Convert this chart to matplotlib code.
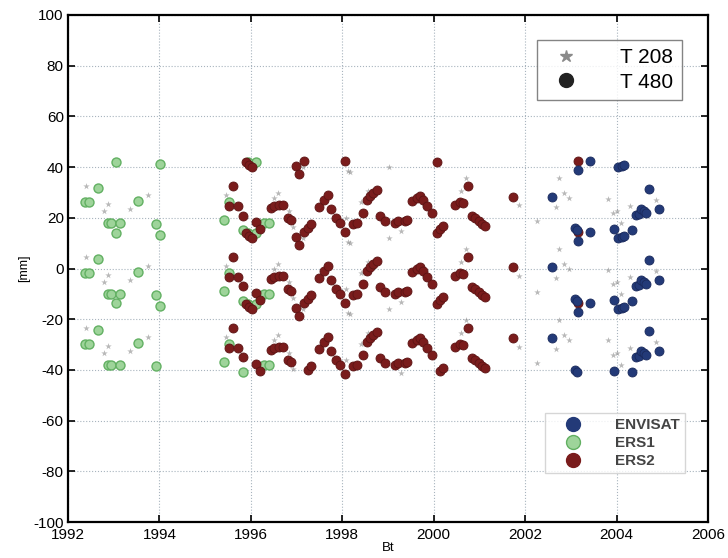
import numpy as np
import matplotlib
matplotlib.use("Agg")
import matplotlib.pyplot as plt
from matplotlib.lines import Line2D
from matplotlib.ticker import FuncFormatter

plt.rcParams["font.family"] = ["Liberation Sans", "DejaVu Sans"]

# ── data (value read in one band; the plot repeats it every AMB mm) ──────────
AMB = 28.0
Y_LO, Y_HI = -41.5, 42.5

ers1_t = [1992.37, 1992.47, 1992.66, 1992.88, 1992.95, 1993.04, 1993.14,
          1993.54, 1993.92, 1994.01, 1995.41, 1995.52, 1995.82, 1995.93,
          1996.11, 1996.29, 1996.40]
ers1_v = [-1.8, -1.8, 3.9, -10.1, -10.1, -13.8, -10.1,
          -1.2, -10.4, -14.7, -8.9, -1.8, -12.8, -13.9,
          13.9, -10.0, -10.0]

ers2_t = [1995.52, 1995.61, 1995.72, 1995.82, 1995.89, 1995.96, 1996.02,
          1996.11, 1996.20, 1996.44, 1996.51, 1996.62, 1996.70, 1996.81,
          1996.88, 1996.99, 1997.06, 1997.17, 1997.25, 1997.32, 1997.48,
          1997.61, 1997.69, 1997.76, 1997.87, 1997.94, 1998.05, 1998.23,
          1998.33, 1998.45, 1998.53, 1998.60, 1998.67, 1998.75, 1998.82,
          1998.93, 1999.15, 1999.22, 1999.37, 1999.41, 1999.52, 1999.63,
          1999.70, 1999.77, 1999.85, 1999.96, 2000.07, 2000.14, 2000.21,
          2000.47, 2000.58, 2000.65, 2000.76, 2000.84, 2000.91, 2000.98,
          2001.05, 2001.13, 2001.73, 2003.16]
ers2_v = [-3.2, 4.5, -3.4, -7.1, 13.9, 13.0, 12.2,
          -9.7, -12.3, -4.1, -3.2, -2.8, -2.8, -8.0,
          -8.9, 12.5, 9.2, -13.7, -12.0, -10.3, -3.7,
          -0.8, 0.8, -4.7, -8.0, -10.0, -13.5, -10.3,
          -10.0, -6.3, -0.8, 0.5, 1.8, 2.9, -7.4,
          -9.3, -10.0, -9.3, -9.3, -8.7, -1.4, -0.1,
          0.5, -0.8, -3.4, -6.0, -13.9, -12.6, -11.3,
          -2.8, -1.6, -2.0, 4.5, -7.4, -8.0, -9.3,
          -10.3, -11.3, 0.4, 14.3]

envisat_t = [2002.59, 2003.10, 2003.14, 2003.16, 2003.42, 2003.95, 2004.04,
             2004.12, 2004.17, 2004.34, 2004.43, 2004.48, 2004.54, 2004.60,
             2004.65, 2004.72, 2004.92]
envisat_v = [0.4, -12.0, -13.0, 11.0, -13.7, -12.3, 12.2,
             12.6, 13.0, -13.0, -7.0, -6.4, -4.5, -5.4,
             -6.2, 3.2, -4.5]

t208_t = [1992.40, 1992.78, 1992.88, 1993.36, 1993.76, 1995.45, 1996.51,
          1996.59, 1996.84, 1996.92, 1997.13, 1997.46, 1997.57, 1998.08,
          1998.12, 1998.16, 1998.40, 1998.56, 1999.03, 1999.14, 1999.28,
          1999.65, 1999.78, 2000.51, 2000.60, 2000.71, 2001.87, 2002.26,
          2002.67, 2002.75, 2002.86, 2002.96, 2003.82, 2003.92, 2004.02,
          2004.10, 2004.29, 2004.87]
t208_v = [4.7, -5.5, -2.4, -4.6, 0.8, 1.1, -0.1,
          1.7, -5.5, -11.5, -15.8, -4.2, -1.6, -8.2,
          -17.5, -17.9, -1.6, 2.4, -15.8, -10.1, -13.4,
          1.3, -2.9, -1.6, 2.4, 7.6, -3.1, -9.4,
          -3.8, 7.7, 1.7, -0.2, -0.4, -6.2, -5.4,
          -10.0, -3.3, -0.9]

x_ticks = [1992, 1994, 1996, 1998, 2000, 2002, 2004, 2006]
y_ticks = [-100, -80, -60, -40, -20, 0, 20, 40, 60, 80, 100]


def band_copies(t, v):
    xs, ys = [], []
    for ti, vi in zip(t, v):
        for k in range(-3, 4):
            y = vi + k * AMB
            if Y_LO <= y <= Y_HI:
                xs.append(ti)
                ys.append(y)
    return xs, ys


C_ENV = "#233a78"
C_ERS1 = "#9ed49a"
C_ERS1_EDGE = "#62b062"
C_ERS2 = "#7a1c1c"

fig = plt.figure(figsize=(7.28, 5.58), dpi=100)
ax = fig.add_axes([68 / 728, 1 - 522 / 558, 640 / 728, 507 / 558])

x, y = band_copies(t208_t, t208_v)
ax.scatter(x, y, marker="*", s=24, color="#8a8a8a", alpha=0.6,
           linewidths=0, zorder=2)

x, y = band_copies(ers1_t, ers1_v)
ax.scatter(x, y, s=42, facecolor=C_ERS1, edgecolor=C_ERS1_EDGE,
           linewidths=1.0, zorder=3)

x, y = band_copies(ers2_t, ers2_v)
ax.scatter(x, y, s=42, facecolor=C_ERS2, edgecolor="#5c1414",
           linewidths=0.6, zorder=4)

x, y = band_copies(envisat_t, envisat_v)
ax.scatter(x, y, s=42, facecolor=C_ENV, edgecolor="#1a2a5c",
           linewidths=0.6, zorder=5)

ax.set_xlim(1992, 2006)
ax.set_ylim(-100, 100)
ax.set_xticks(x_ticks)
ax.set_yticks(y_ticks)
ax.yaxis.set_major_formatter(FuncFormatter(lambda v, p: f"{int(v)}"))
ax.tick_params(direction="in", length=5, width=1.2, top=True, right=True,
               labelsize=11, pad=3)
ax.tick_params(axis="x", pad=4.5)
ax.grid(True, linestyle=":", color="#a8b4be", linewidth=0.8)
for s in ax.spines.values():
    s.set_linewidth(1.6)

ax.set_xlabel("Bt", fontsize=9.5, labelpad=0)
ax.set_ylabel("[mm]", fontsize=9, labelpad=2)

# ── legends ──────────────────────────────────────────────────────────────────
h1 = [Line2D([], [], marker="*", ls="", color="#8a8a8a", markersize=9),
      Line2D([], [], marker="o", ls="", color="#222222", markersize=10)]
leg1 = ax.legend(h1, ["T 208", "T 480"], loc="upper left",
                 bbox_to_anchor=(537 / 728, 1 - 40 / 558),
                 bbox_transform=fig.transFigure, fontsize=15,
                 frameon=True, fancybox=False, edgecolor="#666666",
                 handletextpad=1.6, borderpad=0.4, labelspacing=0.25,
                 handlelength=2.0, borderaxespad=0)
leg1.get_frame().set_linewidth(1.0)
ax.add_artist(leg1)

h2 = [Line2D([], [], marker="o", ls="", color=C_ENV, markersize=10),
      Line2D([], [], marker="o", ls="", markerfacecolor=C_ERS1,
             markeredgecolor=C_ERS1_EDGE, markersize=10),
      Line2D([], [], marker="o", ls="", color=C_ERS2, markersize=10)]
leg2 = ax.legend(h2, ["ENVISAT", "ERS1", "ERS2"], loc="upper left",
                 bbox_to_anchor=(545 / 728, 1 - 413 / 558),
                 bbox_transform=fig.transFigure,
                 prop={"size": 11, "weight": "bold"},
                 frameon=True, fancybox=False, edgecolor="#cccccc",
                 handletextpad=1.2, borderpad=0.35, labelspacing=0.25,
                 handlelength=3.0, borderaxespad=0)
for txt in leg2.get_texts():
    txt.set_color("#444444")

fig.savefig("out.png", dpi=100)
